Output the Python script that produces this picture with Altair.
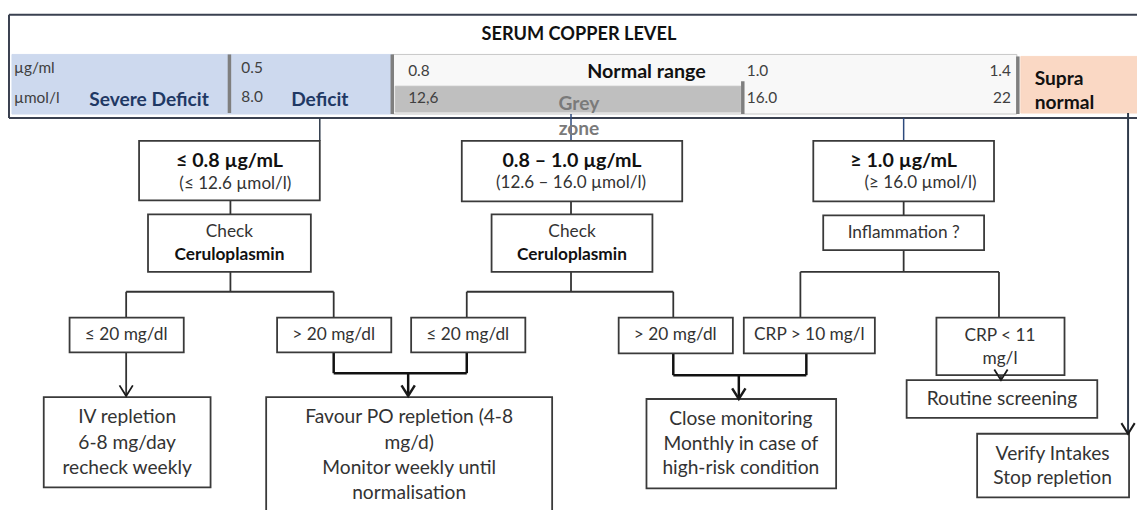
import altair as alt
import pandas as pd

# ------------------------------------------------------------------
# Header band (serum copper level scale)
# ------------------------------------------------------------------
band_names = ["deficit zone", "normal range", "grey zone", "supra normal"]
band_x0 = [12, 395, 398, 1028]
band_x1 = [395, 1024, 746, 1150]
band_y0 = [53, 53, 85, 55]
band_y1 = [113, 113, 111, 112]
band_fill = ["#cdd9ee", "#f8f8f8", "#bfbfbf", "#fad8c4"]
band_stroke = ["#cdd9ee", "#c8c8c8", "#bfbfbf", "#fad8c4"]

# header texts
hdr_text = ["SERUM COPPER LEVEL", "µg/ml", "µmol/l", "Severe Deficit", "0.5", "8.0",
            "Deficit", "0.8", "12,6", "Normal range", "Grey", "zone", "1.0", "16.0",
            "1.4", "22", "Supra", "normal"]
hdr_x = [583, 14, 14, 150, 243, 243, 322, 411, 411, 651, 583, 583, 752, 752, 1018, 1018, 1042, 1042]
hdr_y = [33, 67, 97, 99, 67, 96, 99, 70, 97, 71, 103, 128, 70, 97, 70, 97, 78, 102]
hdr_size = [18.3, 15.5, 15.5, 19.3, 15.5, 15.5, 19.3, 15.5, 15.5, 19.8, 19.3, 19.3,
            15.5, 15.5, 15.5, 15.5, 19.3, 19.3]
hdr_color = ["#111111", "#404040", "#404040", "#1f3864", "#404040", "#404040", "#1f3864",
             "#404040", "#404040", "#111111", "#7a7a7a", "#7a7a7a", "#404040", "#404040",
             "#404040", "#404040", "#111111", "#111111"]
hdr_weight = ["bold", "normal", "normal", "bold", "normal", "normal", "bold", "normal", "normal",
              "bold", "bold", "bold", "normal", "normal", "normal", "normal", "bold", "bold"]
hdr_align = ["center", "left", "left", "center", "left", "left", "center", "left", "left",
             "center", "center", "center", "left", "left", "right", "right", "left", "left"]

# ------------------------------------------------------------------
# Flowchart boxes
# ------------------------------------------------------------------
box_names = ["<=0.8", "0.8-1.0", ">=1.0", "check1", "check2", "inflam",
             "le20a", "gt20a", "le20b", "gt20b", "crp10", "crp11",
             "iv", "po", "close", "routine", "verify"]
box_x0 = [140, 465, 819, 149, 495, 829, 70, 279, 414, 623, 749, 943, 44, 268, 651, 913, 984]
box_x1 = [322, 687, 1001, 313, 657, 991, 185, 394, 529, 738, 881, 1072, 212, 556, 842, 1105, 1137]
box_y0 = [140, 140, 140, 214, 214, 215, 318, 318, 318, 318, 318, 318, 398, 398, 400, 381, 435]
box_y1 = [200, 201, 201, 272, 272, 250, 353, 353, 353, 354, 354, 376, 489, 530, 490, 419, 499]

# box texts
box_text = ["≤ 0.8 µg/mL", "(≤ 12.6 µmol/l)",
            "0.8 – 1.0 µg/mL", "(12.6 – 16.0 µmol/l)",
            "≥ 1.0 µg/mL", "(≥ 16.0 µmol/l)",
            "Check", "Ceruloplasmin", "Check", "Ceruloplasmin",
            "Inflammation ?",
            "≤ 20 mg/dl", "> 20 mg/dl", "≤ 20 mg/dl", "> 20 mg/dl", "CRP > 10 mg/l",
            "CRP < 11", "mg/l",
            "IV repletion", "6-8 mg/day", "recheck weekly",
            "Favour PO repletion (4-8", "mg/d)", "Monitor weekly until", "normalisation",
            "Close monitoring", "Monthly in case of", "high-risk condition",
            "Routine screening",
            "Verify Intakes", "Stop repletion"]
box_tx = [231, 237, 576, 575, 910, 927, 231, 231, 576, 576, 910,
          127, 336, 471, 680, 815, 1007, 1007,
          128, 128, 128, 412, 412, 412, 412, 746, 746, 746, 1009, 1060, 1060]
box_ty = [160, 184, 160, 183, 160, 183, 232, 255, 232, 255, 233,
          336, 336, 336, 336, 336, 337, 360,
          418, 444, 470, 418, 444, 470, 495, 420, 445, 470, 400, 455, 480]
box_tsize = [19.8, 17.2, 19.8, 17.2, 19.8, 17.2, 17.4, 17.4, 17.4, 17.4, 17.4,
             17.4, 17.4, 17.4, 17.4, 17.4, 17.4, 17.4,
             19.3, 19.3, 19.3, 19.3, 19.3, 19.3, 19.3, 19.3, 19.3, 19.3, 19.3, 19.3, 19.3]
box_tweight = ["bold", "normal", "bold", "normal", "bold", "normal",
               "normal", "bold", "normal", "bold", "normal",
               "normal", "normal", "normal", "normal", "normal", "normal", "normal",
               "normal", "normal", "normal", "normal", "normal", "normal", "normal",
               "normal", "normal", "normal", "normal", "normal", "normal"]

# ------------------------------------------------------------------
# Connector lines
# ------------------------------------------------------------------
ln_x0 = [9, 9, 9,          # header frame
         231, 395, 748, 1025,  # header dividers
         322, 575, 910, 1136,  # header connectors
         232, 232, 127, 127, 336,
         575, 575, 470, 470, 678,
         910, 910, 806, 806, 1006,
         127, 1008,
         336, 470, 336, 411,
         678, 812, 678, 744]
ln_x1 = [1150, 1150, 9,
         231, 395, 748, 1025,
         322, 575, 910, 1136,
         232, 232, 336, 127, 336,
         575, 575, 678, 470, 678,
         910, 910, 1006, 806, 1006,
         127, 1008,
         336, 470, 470, 411,
         678, 812, 812, 744]
ln_y0 = [13, 117, 13,
         53, 53, 80, 55,
         117, 113, 117, 112,
         200, 272, 292, 292, 292,
         201, 272, 292, 292, 292,
         201, 250, 272, 272, 272,
         353, 358,
         353, 353, 374, 374,
         354, 354, 376, 376]
ln_y1 = [13, 117, 117,
         112, 113, 113, 113,
         140, 140, 140, 434,
         214, 292, 292, 318, 318,
         214, 292, 292, 318, 318,
         215, 272, 272, 318, 318,
         396, 380,
         374, 374, 374, 396,
         376, 376, 376, 399]
ln_color = ["#3a4150"] * 3 + ["#7f7f7f"] * 4 + ["#2f3a4a", "#2e4a7d", "#2e4a7d", "#2f3a4a"] + \
           ["#333333"] * 17 + ["#111111"] * 8
ln_width = [2, 2, 2] + [3.5] * 4 + [1.5, 1.5, 1.5, 2] + [1.8] * 17 + [2.5] * 8

# arrow heads (tips)
arr_x = [127, 1008, 1136, 411, 744]
arr_y = [397, 381, 435, 397, 400]
arr_w = [1.8, 1.8, 2, 2.5, 2.5]

# ------------------------------------------------------------------
xs = alt.Scale(domain=[8, 1145], nice=False, zero=False)
ys = alt.Scale(domain=[510, 8], nice=False, zero=False)


def X(f):
    return alt.X(f"{f}:Q", scale=xs, axis=None)


def Y(f):
    return alt.Y(f"{f}:Q", scale=ys, axis=None)


band_df = pd.DataFrame(dict(name=band_names, x0=band_x0, x1=band_x1, y0=band_y0, y1=band_y1,
                            fill=band_fill, stroke=band_stroke))
bands = alt.Chart(band_df).mark_rect(strokeWidth=1).encode(
    x=X("x0"), x2=alt.X2("x1"), y=Y("y0"), y2=alt.Y2("y1"),
    fill=alt.Fill("fill:N", scale=None), stroke=alt.Stroke("stroke:N", scale=None))

box_df = pd.DataFrame(dict(name=box_names, x0=box_x0, x1=box_x1, y0=box_y0, y1=box_y1))
boxes = alt.Chart(box_df).mark_rect(fill="white", stroke="#3a3a3a", strokeWidth=1.8).encode(
    x=X("x0"), x2=alt.X2("x1"), y=Y("y0"), y2=alt.Y2("y1"))

ln_df = pd.DataFrame(dict(x0=ln_x0, x1=ln_x1, y0=ln_y0, y1=ln_y1, color=ln_color, sw=ln_width))
lines = alt.Chart(ln_df).mark_rule().encode(
    x=X("x0"), x2=alt.X2("x1"), y=Y("y0"), y2=alt.Y2("y1"),
    color=alt.Color("color:N", scale=None), strokeWidth=alt.StrokeWidth("sw:Q", scale=None))

arr_df = pd.DataFrame(dict(x=arr_x, y=arr_y, sw=arr_w))
arrows = alt.Chart(arr_df).mark_point(
    shape="M-1,-1.6L0,0L1,-1.6", filled=False, size=180, color="#1a1a1a", opacity=1).encode(
    x=X("x"), y=Y("y"), strokeWidth=alt.StrokeWidth("sw:Q", scale=None))

txt_df = pd.concat([
    pd.DataFrame(dict(label=hdr_text, x=hdr_x, y=hdr_y, size=hdr_size, color=hdr_color,
                      weight=hdr_weight, align=hdr_align)),
    pd.DataFrame(dict(label=box_text, x=box_tx, y=box_ty, size=box_tsize,
                      color=["#111111" if w == "bold" else "#333333" for w in box_tweight],
                      weight=box_tweight, align=["center"] * len(box_text))),
], ignore_index=True)

text_layers = []
for (w, a), g in txt_df.groupby(["weight", "align"]):
    text_layers.append(
        alt.Chart(g).mark_text(font="Lato", fontWeight=w, align=a, baseline="middle").encode(
            x=X("x"), y=Y("y"), text="label:N",
            size=alt.Size("size:Q", scale=None), color=alt.Color("color:N", scale=None)))

chart = alt.layer(bands, lines, boxes, arrows, *text_layers).properties(
    width=1137, height=502, padding=0, autosize=alt.AutoSizeParams(type="none"),
    background="white"
).configure_view(stroke=None)

chart.save("out.html", embed_options={"renderer": "svg", "actions": False})
